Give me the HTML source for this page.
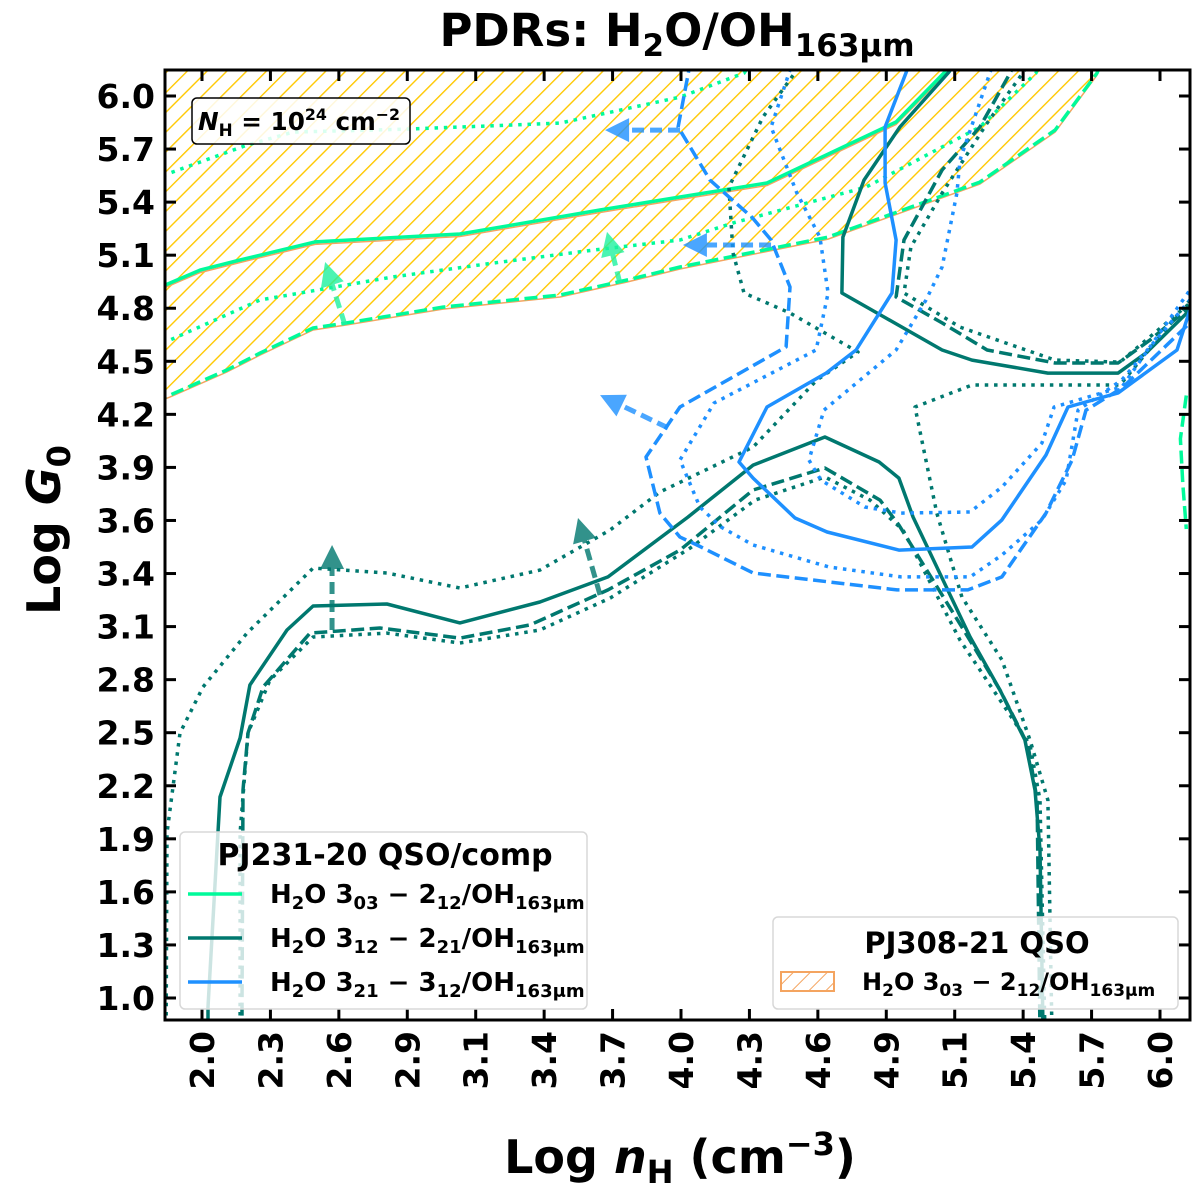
<!DOCTYPE html>
<html><head><meta charset="utf-8"><style>
html,body{margin:0;padding:0;background:#fff;}
svg{display:block;font-family:"DejaVu Sans","Liberation Sans",sans-serif;font-weight:bold;}
</style></head><body>
<svg id="chart" width="1200" height="1197" viewBox="0 0 1200 1197" xmlns="http://www.w3.org/2000/svg">
<defs>
<clipPath id="plotclip"><rect x="165" y="70" width="1025" height="950"/></clipPath>
<pattern id="hatch" patternUnits="userSpaceOnUse" width="14" height="14" patternTransform="rotate(45)">
<line x1="0" y1="0" x2="0" y2="14" stroke="#ffc800" stroke-width="2.8"/>
</pattern>
<pattern id="hatchLeg" patternUnits="userSpaceOnUse" width="12" height="12" patternTransform="rotate(45)">
<line x1="0" y1="0" x2="0" y2="12" stroke="#f4a460" stroke-width="2"/>
</pattern>
</defs>
<text x="677" y="46" text-anchor="middle" font-size="45">PDRs: H<tspan font-size="31" dy="10">2</tspan><tspan dy="-10">O/OH</tspan><tspan font-size="31" dy="10">163μm</tspan></text>
<g id="plot" clip-path="url(#plotclip)"></g>
<g id="axes"></g>
<g>
<rect x="192" y="98" width="218" height="46" rx="5" fill="rgba(255,255,255,0.85)" stroke="#000" stroke-width="1.5"/>
<text x="198" y="130" font-size="25" textLength="202" lengthAdjust="spacingAndGlyphs"><tspan font-style="italic">N</tspan><tspan font-size="17" dy="6">H</tspan><tspan dy="-6"> = 10</tspan><tspan font-size="16" dy="-10">24</tspan><tspan dy="10"> cm</tspan><tspan font-size="16" dy="-10">−2</tspan></text>
</g>
<g>
<rect x="180" y="832" width="407" height="177" rx="5" fill="rgba(255,255,255,0.8)" stroke="#d8d8d8" stroke-width="1.5"/>
<text x="385" y="865" text-anchor="middle" font-size="30">PJ231-20 QSO/comp</text>
<g><line x1="188" y1="894" x2="242" y2="894" stroke="#00fa9a" stroke-width="3.5"/>
<text x="270" y="903" font-size="26">H<tspan font-size="18" dy="6">2</tspan><tspan dy="-6">O 3</tspan><tspan font-size="18" dy="6">03</tspan><tspan dy="-6"> − 2</tspan><tspan font-size="18" dy="6">12</tspan><tspan dy="-6">/OH</tspan><tspan font-size="18" dy="6">163μm</tspan></text></g>
<g><line x1="188" y1="938" x2="242" y2="938" stroke="#00786f" stroke-width="3.5"/>
<text x="270" y="947" font-size="26">H<tspan font-size="18" dy="6">2</tspan><tspan dy="-6">O 3</tspan><tspan font-size="18" dy="6">12</tspan><tspan dy="-6"> − 2</tspan><tspan font-size="18" dy="6">21</tspan><tspan dy="-6">/OH</tspan><tspan font-size="18" dy="6">163μm</tspan></text></g>
<g><line x1="188" y1="982" x2="242" y2="982" stroke="#1e90ff" stroke-width="3.5"/>
<text x="270" y="991" font-size="26">H<tspan font-size="18" dy="6">2</tspan><tspan dy="-6">O 3</tspan><tspan font-size="18" dy="6">21</tspan><tspan dy="-6"> − 3</tspan><tspan font-size="18" dy="6">12</tspan><tspan dy="-6">/OH</tspan><tspan font-size="18" dy="6">163μm</tspan></text></g>
</g>
<g>
<rect x="773" y="917" width="405" height="92" rx="5" fill="rgba(255,255,255,0.8)" stroke="#d8d8d8" stroke-width="1.5"/>
<text x="977" y="953" text-anchor="middle" font-size="29">PJ308-21 QSO</text>
<rect x="781" y="972" width="53" height="19" fill="url(#hatchLeg)" stroke="#f4a460" stroke-width="2"/>
<text x="862" y="990" font-size="24">H<tspan font-size="17" dy="6">2</tspan><tspan dy="-6">O 3</tspan><tspan font-size="17" dy="6">03</tspan><tspan dy="-6"> − 2</tspan><tspan font-size="17" dy="6">12</tspan><tspan dy="-6">/OH</tspan><tspan font-size="17" dy="6">163μm</tspan></text>
</g>
<text x="680" y="1173" text-anchor="middle" font-size="46">Log <tspan font-style="italic">n</tspan><tspan font-size="32" dy="10">H</tspan><tspan dy="-10"> (cm</tspan><tspan font-size="32" dy="-18">−3</tspan><tspan dy="18">)</tspan></text>
<text transform="translate(60,530) rotate(-90)" text-anchor="middle" font-size="46">Log <tspan font-style="italic">G</tspan><tspan font-size="32" dy="10">0</tspan></text>
</svg>
<script>
// ---- axis tick data ----
const xTickLabels = ["2.0","2.3","2.6","2.9","3.1","3.4","3.7","4.0","4.3","4.6","4.9","5.1","5.4","5.7","6.0"];
const yTickLabels = ["1.0","1.3","1.6","1.9","2.2","2.5","2.8","3.1","3.4","3.6","3.9","4.2","4.5","4.8","5.1","5.4","5.7","6.0"];
// ---- series data: [log nH, log G0] ----
const green303Solid = [[1.80,4.93],[1.846,4.952],[1.992,5.035],[2.159,5.091],[2.472,5.191],[3.077,5.235],[3.662,5.368],[3.996,5.440],[4.359,5.518],[4.898,5.856],[5.102,6.133],[5.13,6.2]];
const green303Dashed = [[1.80,4.31],[1.866,4.342],[2.104,4.481],[2.242,4.575],[2.464,4.714],[2.605,4.742],[3.006,4.830],[3.495,4.897],[3.775,4.980],[3.996,5.052],[4.614,5.218],[5.248,5.523],[5.562,5.811],[5.737,6.127],[5.76,6.2]];
const green303DotUp = [[1.80,5.54],[1.866,5.573],[2.188,5.728],[2.380,5.800],[2.868,5.817],[3.495,5.850],[3.996,5.994],[4.263,6.127],[4.3,6.2]];
const green303DotLow = [[1.80,4.61],[1.866,4.647],[2.242,4.869],[2.798,4.997],[3.215,5.074],[3.633,5.146],[3.996,5.202],[4.217,5.296],[4.773,5.495],[5.248,5.828],[5.482,6.127],[5.50,6.2]];
const green303Edge = [[6.11,4.34],[6.085,4.10],[6.095,3.85],[6.11,3.60]];
const teal312Solid = [[2.025,0.80],[2.025,0.950],[2.075,2.114],[2.159,2.441],[2.200,2.735],[2.355,3.040],[2.464,3.173],[2.772,3.184],[3.077,3.079],[3.411,3.195],[3.695,3.334],[4.029,3.666],[4.301,3.954],[4.601,4.110],[4.827,3.971],[4.910,3.882],[4.969,3.666],[5.207,3.001],[5.332,2.707],[5.436,2.430],[5.478,2.153],[5.499,1.820],[5.512,0.80]];
const teal312SolidR = [[5.15,6.2],[5.119,6.133],[4.914,5.828],[4.764,5.534],[4.676,5.218],[4.672,4.908],[5.090,4.592],[5.215,4.536],[5.532,4.464],[5.825,4.464],[5.941,4.575],[6.125,4.814],[6.2,4.9]];
const teal312Dashed = [[2.167,0.80],[2.167,0.950],[2.171,2.153],[2.192,2.469],[2.255,2.724],[2.451,3.023],[2.743,3.051],[3.077,2.995],[3.370,3.068],[3.695,3.262],[3.996,3.483],[4.301,3.816],[4.601,3.938],[4.831,3.760],[4.910,3.622],[5.173,3.056],[5.332,2.707],[5.449,2.402],[5.487,2.097],[5.499,0.80]];
const teal312DashedR = [[5.40,6.2],[5.374,6.127],[5.248,5.828],[5.090,5.590],[4.931,5.202],[4.898,4.886],[5.090,4.742],[5.278,4.592],[5.562,4.520],[5.825,4.520],[5.958,4.647],[6.125,4.830],[6.2,4.9]];
const teal312DotOuter = [[1.850,0.80],[1.854,1.915],[1.908,2.469],[2.004,2.724],[2.188,3.023],[2.464,3.383],[2.772,3.356],[3.077,3.273],[3.411,3.372],[3.704,3.594],[3.912,3.805],[4.301,4.054],[4.568,4.426],[4.739,4.581],[4.455,4.797],[4.263,4.908],[4.217,5.130],[4.200,5.495],[4.342,5.883],[4.484,6.144],[4.52,6.2]];
const teal312DotInner = [[2.159,0.80],[2.159,1.915],[2.192,2.469],[2.284,2.763],[2.464,3.001],[2.772,3.023],[3.077,2.968],[3.411,3.040],[3.704,3.217],[4.038,3.494],[4.309,3.760],[4.601,3.888],[4.789,3.760],[4.927,3.594],[5.165,2.984],[5.332,2.652],[5.457,2.402],[5.499,2.097],[5.520,0.80]];
const teal312DotR = [[5.46,6.2],[5.436,6.144],[5.278,5.850],[5.090,5.462],[4.960,5.163],[4.931,4.908],[5.165,4.719],[5.562,4.536],[5.833,4.525],[6.125,4.852],[6.2,4.92]];
const teal312DotC = [[6.125,4.869],[5.833,4.398],[5.215,4.398],[4.977,4.276],[5.068,3.688],[5.173,3.223],[5.340,2.874],[5.457,2.430],[5.532,2.097],[5.549,0.80]];
const blue321Solid = [[4.96,6.2],[4.944,6.144],[4.852,5.828],[4.852,5.518],[4.898,5.202],[4.881,4.908],[4.731,4.592],[4.606,4.464],[4.359,4.276],[4.242,3.971],[4.301,3.882],[4.476,3.661],[4.610,3.583],[4.910,3.483],[5.215,3.500],[5.340,3.650],[5.524,4.010],[5.616,4.276],[5.825,4.354],[6.071,4.592],[6.125,4.814],[6.2,4.95]];
const blue321Dashed = [[4.04,6.2],[4.033,6.144],[3.988,5.828],[4.121,5.534],[4.297,5.327],[4.376,5.202],[4.455,4.941],[4.439,4.609],[3.996,4.276],[3.854,3.999],[3.912,3.688],[3.996,3.555],[4.067,3.511],[4.301,3.356],[4.902,3.262],[5.198,3.262],[5.340,3.334],[5.524,3.688],[5.633,3.982],[5.691,4.259],[5.841,4.381],[6.125,4.742],[6.2,4.85]];
const blue321DotA = [[4.47,6.2],[4.455,6.144],[4.376,5.828],[4.484,5.462],[4.580,5.218],[4.614,4.908],[4.564,4.592],[4.138,4.298],[3.996,3.982],[4.079,3.721],[4.167,3.611],[4.301,3.511],[4.618,3.389],[4.919,3.334],[5.207,3.334],[5.340,3.455],[5.507,3.650],[5.608,3.871],[5.658,4.259],[5.841,4.426],[6.125,4.869],[6.2,4.98]];
const blue321DotB = [[5.31,6.2],[5.294,6.144],[5.165,5.645],[5.152,5.462],[5.090,5.052],[5.023,4.869],[4.898,4.592],[4.597,4.259],[4.534,3.982],[4.584,3.871],[4.768,3.722],[4.919,3.688],[5.207,3.694],[5.340,3.832],[5.507,4.076],[5.558,4.276],[5.841,4.387],[6.125,4.924],[6.2,5.05]];
// arrows: [x0,y0,x1,y1]
const greenArrows = [[2.597,4.730,2.514,5.080],[3.745,4.963,3.691,5.247]];
const tealArrows = [[2.543,3.040,2.543,3.511],[3.662,3.234,3.570,3.661]];
const blueArrows = [[3.996,5.811,3.683,5.811],[4.376,5.174,4.008,5.174],[3.946,4.160,3.662,4.342]];

const X = v => 202 + (v - 2) * 239.5;
const Y = v => 998 - (v - 1) * 180.4;
const NS = "http://www.w3.org/2000/svg";
const plot = document.getElementById('plot');
const axes = document.getElementById('axes');
function mk(tag, attrs, parent){ const e=document.createElementNS(NS,tag); for(const k in attrs) e.setAttribute(k,attrs[k]); parent.appendChild(e); return e; }
const pts = d => d.map(p => X(p[0]).toFixed(1)+','+Y(p[1]).toFixed(1)).join(' ');

const hatchPts = [[1.80,6.3]].concat(green303Dashed).concat([[5.80,6.3]]);
const hatch = mk('polygon',{points:pts(hatchPts),fill:'url(#hatch)',stroke:'none'},plot);


const edge1 = mk('polyline',{points:pts(green303Dashed),fill:'none',stroke:'#f4a460','stroke-width':1.5,transform:'translate(0,2)'},plot);


const edge2 = mk('polyline',{points:pts(green303Solid),fill:'none',stroke:'#f4a460','stroke-width':1.5,transform:'translate(0,2.5)'},plot);



const DASH='13,5.5', DOT='3.5,5.8';
const series = [
 ['green-303-solid',green303Solid,'#00fa9a',null],
 ['green-303-dashed',green303Dashed,'#00fa9a',DASH],
 ['green-303-dotted-upper',green303DotUp,'#00fa9a',DOT],
 ['green-303-dotted-lower',green303DotLow,'#00fa9a',DOT],
 ['green-303-edge',green303Edge,'#00fa9a',DASH],
 ['teal-312-solid',teal312Solid,'#00786f',null],
 ['teal-312-solid-right',teal312SolidR,'#00786f',null],
 ['teal-312-dashed',teal312Dashed,'#00786f',DASH],
 ['teal-312-dashed-right',teal312DashedR,'#00786f',DASH],
 ['teal-312-dotted-outer',teal312DotOuter,'#00786f',DOT],
 ['teal-312-dotted-inner',teal312DotInner,'#00786f',DOT],
 ['teal-312-dotted-right',teal312DotR,'#00786f',DOT],
 ['teal-312-dotted-c',teal312DotC,'#00786f',DOT],
 ['blue-321-solid',blue321Solid,'#1e90ff',null],
 ['blue-321-dashed',blue321Dashed,'#1e90ff',DASH],
 ['blue-321-dotted-a',blue321DotA,'#1e90ff',DOT],
 ['blue-321-dotted-b',blue321DotB,'#1e90ff',DOT]
];
series.forEach(s=>{
  const a={points:pts(s[1]),fill:'none',stroke:s[2],'stroke-width':3.5,'stroke-linejoin':'round'};
  if(s[3]) a['stroke-dasharray']=s[3];
  const el=mk('polyline',a,plot);
  
  
});
function arrows(list,color,name){
  list.forEach((a,i)=>{
    const x0=X(a[0]),y0=Y(a[1]),x1=X(a[2]),y1=Y(a[3]);
    const dx=x1-x0,dy=y1-y0,L=Math.hypot(dx,dy),ux=dx/L,uy=dy/L;
    const g=mk('g',{opacity:0.8},plot);
    
    
    mk('line',{x1:x0,y1:y0,x2:x1-ux*18,y2:y1-uy*18,stroke:color,'stroke-width':5,'stroke-dasharray':'12,6'},g);
    const bx=x1-ux*24,by=y1-uy*24,px=-uy*12,py=ux*12;
    mk('polygon',{points:`${x1},${y1} ${bx+px},${by+py} ${bx-px},${by-py}`,fill:color},g);
  });
}
arrows(greenArrows,'#1ff2a0','green');
arrows(tealArrows,'#00786f','teal');
arrows(blueArrows,'#1e90ff','blue');

const frame=mk('rect',{x:165,y:70,width:1025,height:950,fill:'none',stroke:'#000','stroke-width':3},axes);


xTickLabels.forEach((lab,i)=>{
  const v=2+i*4/14, x=X(v);
  const t1=mk('line',{x1:x,y1:1020,x2:x,y2:1009,stroke:'#000','stroke-width':3},axes);
  
  
  const t2=mk('line',{x1:x,y1:70,x2:x,y2:81,stroke:'#000','stroke-width':3},axes);
  
  
  const tx=mk('text',{transform:`translate(${x+12},1031) rotate(-90)`,'text-anchor':'end','font-size':33},axes);
  tx.textContent=lab;
  
  
});
yTickLabels.forEach((lab,i)=>{
  const v=1+i*5/17, y=Y(v);
  const t1=mk('line',{x1:165,y1:y,x2:176,y2:y,stroke:'#000','stroke-width':3},axes);
  
  
  const t2=mk('line',{x1:1190,y1:y,x2:1179,y2:y,stroke:'#000','stroke-width':3},axes);
  
  
  const ty=mk('text',{x:155,y:y+12,'text-anchor':'end','font-size':33},axes);
  ty.textContent=lab;
  
  
});
</script>
</body></html>
